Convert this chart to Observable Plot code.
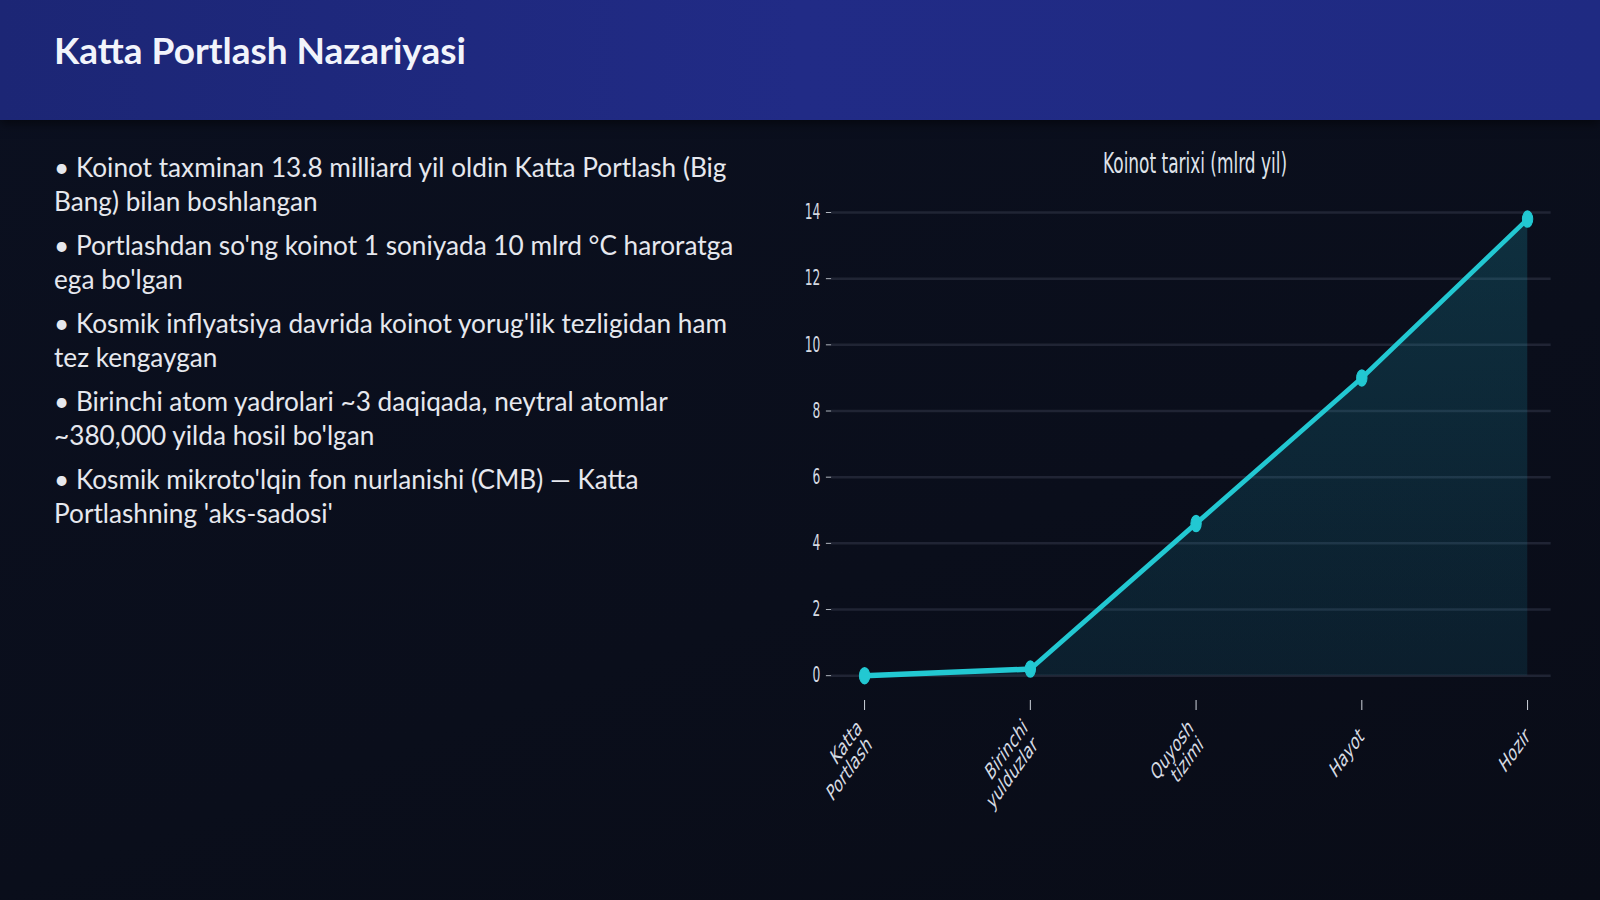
<!DOCTYPE html>
<html>
<head>
<meta charset="utf-8">
<script src="https://cdn.jsdelivr.net/npm/d3@7"></script>
<script src="https://cdn.jsdelivr.net/npm/@observablehq/plot@0.6"></script>
<style>
  html, body { margin: 0; padding: 0; }
  body {
    width: 1600px; height: 900px; overflow: hidden; position: relative;
    background: linear-gradient(160deg, #0b1020 0%, #0a0e1b 60%, #090c17 100%);
    font-family: Lato, "Open Sans", sans-serif;
  }
  #header {
    position: absolute; left: 0; top: 0; width: 1600px; height: 120px;
    background: linear-gradient(90deg, #1c2675 0%, #212b86 50%, #1f2a82 100%);
    box-shadow: 0 4px 10px rgba(0,0,0,0.5);
  }
  #header h1 {
    margin: 0; position: absolute; left: 54px; top: 27px;
    font-family: Lato, sans-serif; font-weight: 700; font-size: 37px; color: #f2f4fb;
  }
  #bullets {
    position: absolute; left: 54px; top: 150px; width: 695px;
    color: #e6e8ee; font-size: 26.2px; line-height: 34px;
  }
  #bullets p { margin: 0 0 10px 0; }
  #chartwrap {
    position: absolute; left: 770px; top: 140px; width: 1231px; height: 700px;
    transform: scaleX(0.65); transform-origin: 0 0;
  }
  #charttitle {
    position: absolute; left: 0; width: 1308px; top: 6px; text-align: center;
    font-family: "DejaVu Sans Condensed", "DejaVu Sans", sans-serif;
    font-size: 29px; color: #dfe3ea;
  }
  #chart { position: absolute; left: 0; top: 0; }
</style>
</head>
<body>
<div id="header"><h1>Katta Portlash Nazariyasi</h1></div>
<div id="bullets"></div>
<div id="chartwrap">
  <div id="charttitle">Koinot tarixi (mlrd yil)</div>
  <div id="chart"></div>
</div>
<script>
const bulletTexts = [
  "Koinot taxminan 13.8 milliard yil oldin Katta Portlash (Big Bang) bilan boshlangan",
  "Portlashdan so'ng koinot 1 soniyada 10 mlrd °C haroratga ega bo'lgan",
  "Kosmik inflyatsiya davrida koinot yorug'lik tezligidan ham tez kengaygan",
  "Birinchi atom yadrolari ~3 daqiqada, neytral atomlar ~380,000 yilda hosil bo'lgan",
  "Kosmik mikroto'lqin fon nurlanishi (CMB) — Katta Portlashning 'aks-sadosi'"
];
const stages = ["Katta\nPortlash", "Birinchi\nyulduzlar", "Quyosh\ntizimi", "Hayot", "Hozir"];
const ages = [0, 0.2, 4.6, 9.0, 13.8];
const yTicks = [0, 2, 4, 6, 8, 10, 12, 14];

const bl = document.getElementById("bullets");
for (const t of bulletTexts) {
  const p = document.createElement("p");
  p.textContent = "• " + t;
  bl.appendChild(p);
}

const data = stages.map((s, i) => ({stage: s, age: ages[i]}));
const cyan = "#22c8d2";

const defs = () => {
  const d = d3.create("svg:defs");
  const g = d.append("linearGradient").attr("id", "areaGrad")
    .attr("x1", 0).attr("y1", 0).attr("x2", 0).attr("y2", 1);
  g.append("stop").attr("offset", "0%").attr("stop-color", "#1fb5cc").attr("stop-opacity", 0.2);
  g.append("stop").attr("offset", "100%").attr("stop-color", "#1a9fc0").attr("stop-opacity", 0.12);
  return d.node();
};

const chart = Plot.plot({
  width: 1231,
  height: 700,
  marginLeft: 94,
  marginRight: 30,
  marginTop: 72,
  marginBottom: 140,
  style: {
    background: "transparent",
    color: "#d5dae2",
    fontFamily: "'DejaVu Sans Condensed', 'DejaVu Sans', sans-serif",
    fontSize: "20px"
  },
  x: {domain: stages, type: "point", padding: 0.14, insetLeft: 14, label: null},
  y: {domain: [-0.75, 14], label: null},
  marks: [
    defs,
    Plot.ruleY(yTicks, {stroke: "#252b3b", strokeWidth: 2.5, strokeOpacity: 0.8}),
    Plot.axisY(yTicks, {tickSize: 8, tickPadding: 9, stroke: "#d5dae2", fontSize: 21, label: null}),
    Plot.axisX({tickSize: 10, tickPadding: 22, tickRotate: -42, fontSize: 23, stroke: "#d5dae2", strokeWidth: 1.5, label: null}),
    Plot.areaY(data, {x: "stage", y1: 0, y2: "age", fill: "url(#areaGrad)", curve: "linear"}),
    Plot.line(data, {x: "stage", y: "age", stroke: cyan, strokeWidth: 5.5}),
    Plot.dot(data, {x: "stage", y: "age", r: 8, fill: cyan, stroke: cyan})
  ]
});
document.getElementById("chart").appendChild(chart);
</script>
</body>
</html>
